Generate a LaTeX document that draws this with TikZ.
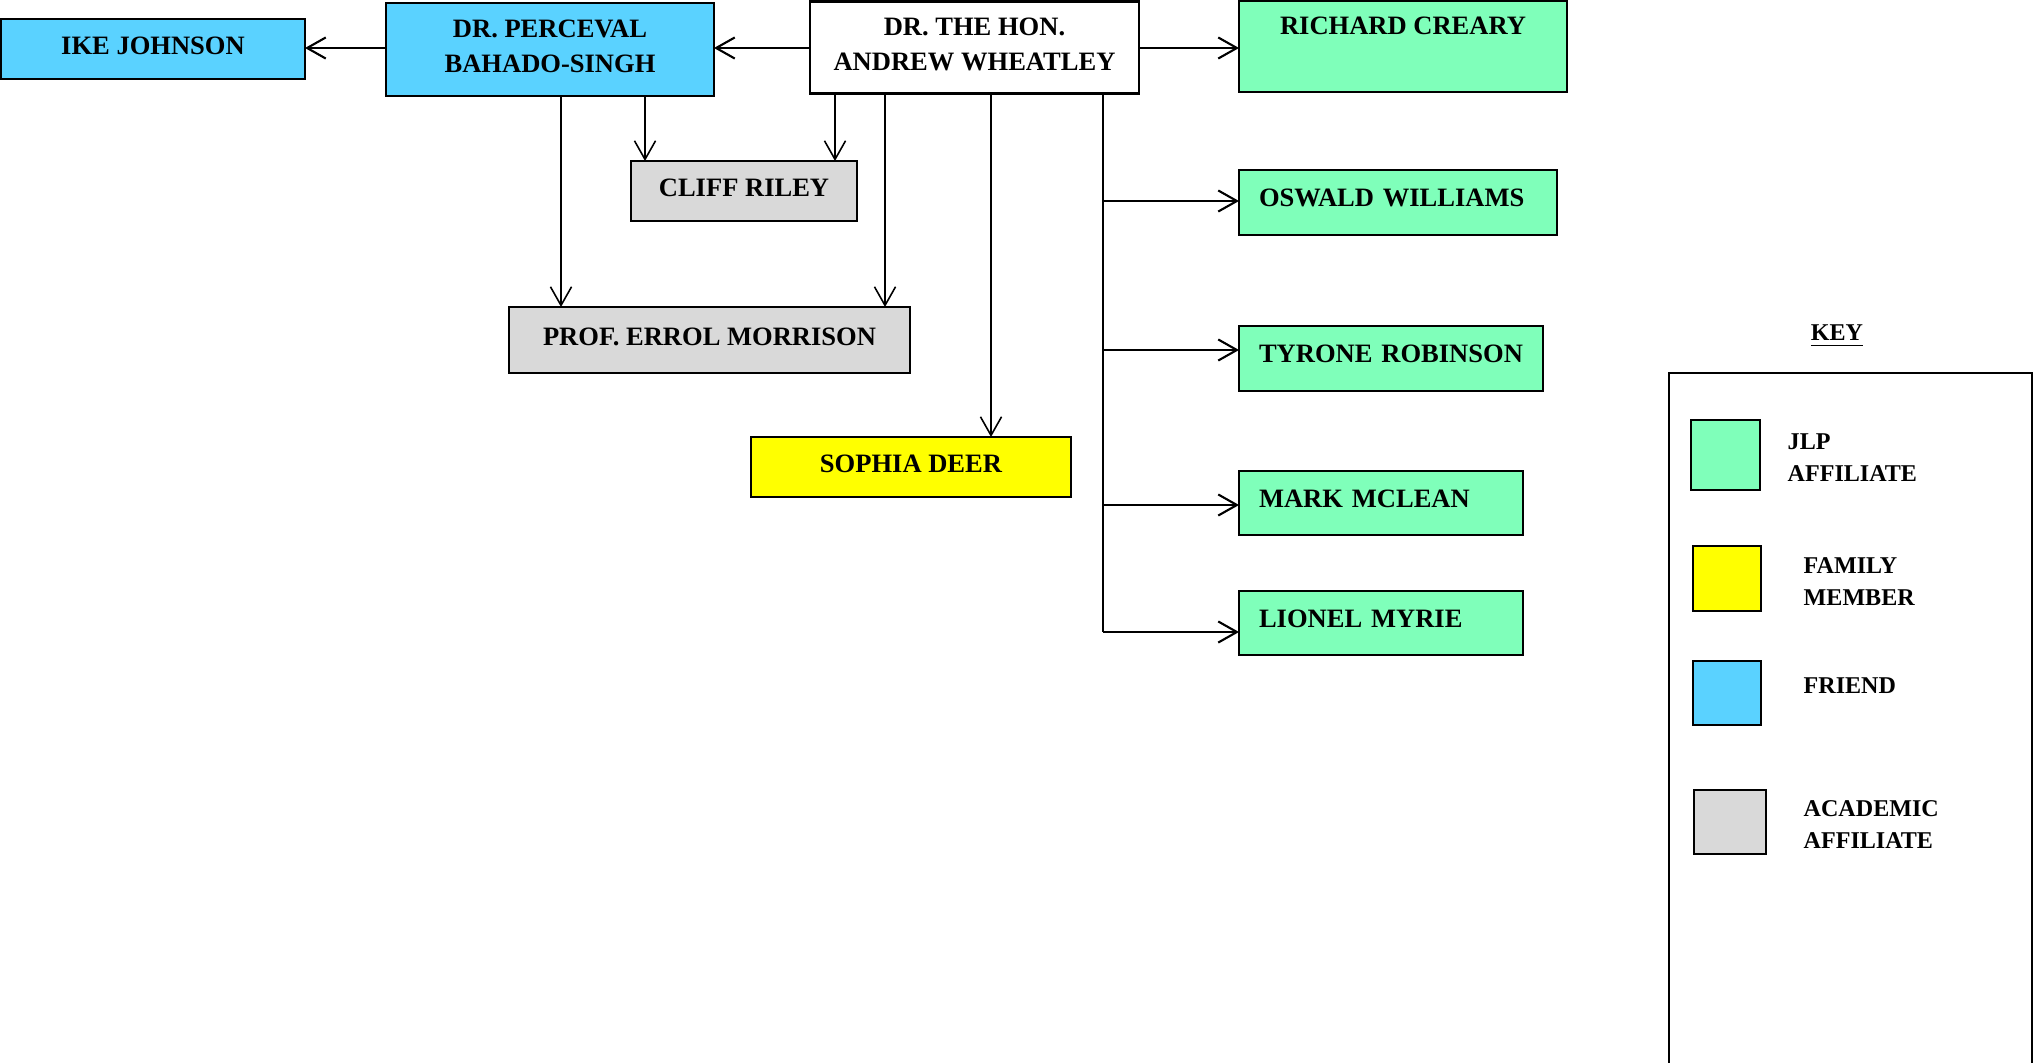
\documentclass[tikz,border=0pt]{standalone}
\usepackage{fontspec}
\setmainfont{Liberation Serif}
\usetikzlibrary{arrows.meta}
\definecolor{jlp}{RGB}{127,255,186}
\definecolor{friend}{RGB}{90,210,255}
\definecolor{acad}{RGB}{217,217,217}
\definecolor{family}{RGB}{255,255,0}
\begin{document}
\begin{tikzpicture}[y=-1cm,
  person/.style={draw=black, line width=0.6pt, rectangle, inner sep=0pt, outer sep=0pt, align=center, text depth=1.8pt, font=\fontsize{7.55}{10}\selectfont\bfseries},
  leftbox/.style={person, anchor=west, align=left, inner xsep=0.2cm, text depth=2.6pt},
  swatch/.style={draw=black, line width=0.7pt, inner sep=0pt, outer sep=0pt},
  keytext/.style={inner sep=0pt, anchor=west, align=left, font=\fontsize{6.85}{9.1}\selectfont\bfseries},
  varr/.style={line width=0.45pt, -{Straight Barb[length=5.3pt,width=6pt]}},
  harr/.style={line width=0.6pt, -{Straight Barb[length=5.3pt,width=6pt]}},
  trunkline/.style={line width=0.5pt}
]
\useasboundingbox (0,0) rectangle (20.38,10.62);

% people
\node[person, fill=friend, minimum width=3.04cm, minimum height=0.60cm] (ike) at (1.53,0.49) {IKE JOHNSON};
\node[person, fill=friend, minimum width=3.28cm, minimum height=0.93cm] (perceval) at (5.50,0.495) {DR. PERCEVAL\\BAHADO-SINGH};
\node[person, fill=white, minimum width=3.29cm, minimum height=0.92cm] (wheatley) at (9.745,0.475) {DR. THE HON.\\ANDREW WHEATLEY};
\node[person, fill=jlp, minimum width=3.28cm, minimum height=0.91cm, text depth=11.7pt] (richard) at (14.03,0.465) {RICHARD CREARY};
\node[person, fill=acad, minimum width=2.26cm, minimum height=0.60cm] (cliff) at (7.44,1.91) {CLIFF RILEY};
\node[person, fill=acad, minimum width=4.01cm, minimum height=0.66cm] (morrison) at (7.095,3.40) {PROF. ERROL MORRISON};
\node[person, fill=family, minimum width=3.20cm, minimum height=0.60cm] (sophia) at (9.11,4.67) {SOPHIA DEER};

\node[leftbox, fill=jlp, text width=2.78cm, minimum height=0.65cm] (oswald) at (12.39,2.025) {\mbox{OSWALD WILLIAMS}};
\node[leftbox, fill=jlp, text width=2.64cm, minimum height=0.65cm] (tyrone) at (12.39,3.585) {\mbox{TYRONE ROBINSON}};
\node[leftbox, fill=jlp, text width=2.44cm, minimum height=0.64cm] (mark) at (12.39,5.03) {\mbox{MARK MCLEAN}};
\node[leftbox, fill=jlp, text width=2.44cm, minimum height=0.64cm] (lionel) at (12.39,6.23) {\mbox{LIONEL MYRIE}};

% horizontal connectors
\coordinate (ya) at (0,0.48);
\draw[harr] (wheatley.west |- ya) -- (perceval.east |- ya);
\draw[harr] (perceval.west |- ya) -- (ike.east |- ya);
\draw[harr] (wheatley.east |- ya) -- (richard.west |- ya);

% vertical connectors
\coordinate (xa) at (6.45,0);
\coordinate (xb) at (8.35,0);
\coordinate (xc) at (5.61,0);
\coordinate (xd) at (8.85,0);
\coordinate (xe) at (9.91,0);
\coordinate (tx) at (11.03,0);
\draw[varr] (perceval.south -| xa) -- (cliff.north -| xa);
\draw[varr] (wheatley.south -| xb) -- (cliff.north -| xb);
\draw[varr] (perceval.south -| xc) -- (morrison.north -| xc);
\draw[varr] (wheatley.south -| xd) -- (morrison.north -| xd);
\draw[varr] (wheatley.south -| xe) -- (sophia.north -| xe);

% trunk to JLP affiliates
\coordinate (b1) at (11.03,2.01);
\coordinate (b2) at (11.03,3.50);
\coordinate (b3) at (11.03,5.05);
\coordinate (b4) at (11.03,6.32);
\draw[trunkline] (wheatley.south -| tx) -- (b4);
\draw[harr] (b1) -- (b1 -| oswald.west);
\draw[harr] (b2) -- (b2 -| tyrone.west);
\draw[harr] (b3) -- (b3 -| mark.west);
\draw[harr] (b4) -- (b4 -| lionel.west);

% key
\node[inner sep=0pt, font=\fontsize{6.85}{9.1}\selectfont\bfseries] (keytitle) at (18.37,3.36) {\underline{KEY}};
\draw[line width=0.6pt] (16.69,10.75) |- (20.32,3.73) -- (20.32,10.75);
\node[swatch, fill=jlp, minimum width=0.69cm, minimum height=0.70cm] (kjlp) at (17.255,4.55) {};
\node[swatch, fill=family, minimum width=0.68cm, minimum height=0.65cm] (kfam) at (17.27,5.785) {};
\node[swatch, fill=friend, minimum width=0.68cm, minimum height=0.64cm] (kfri) at (17.27,6.93) {};
\node[swatch, fill=acad, minimum width=0.72cm, minimum height=0.64cm] (kaca) at (17.30,8.22) {};
\node[keytext] (tjlp) at (17.87,4.58) {JLP\\AFFILIATE};
\node[keytext] (tfam) at (18.03,5.82) {FAMILY\\MEMBER};
\node[keytext] (tfri) at (18.03,6.86) {FRIEND};
\node[keytext] (taca) at (18.03,8.25) {ACADEMIC\\AFFILIATE};
\end{tikzpicture}
\end{document}
